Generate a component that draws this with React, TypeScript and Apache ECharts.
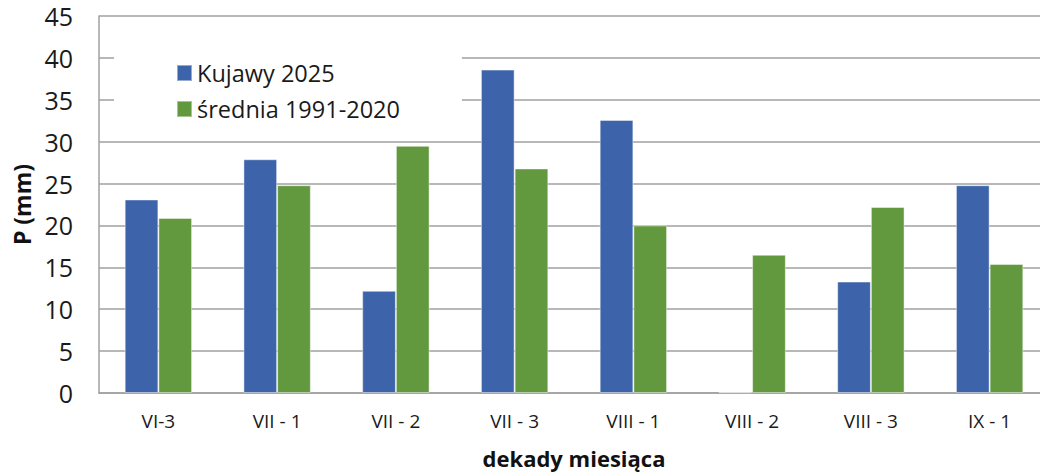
import React, { useEffect, useRef } from "react";
import * as echarts from "echarts";

const categories = ["VI-3", "VII - 1", "VII - 2", "VII - 3", "VIII - 1", "VIII - 2", "VIII - 3", "IX - 1"];
const kujawy2025 = [23.1, 27.9, 12.2, 38.6, 32.6, 0.1, 13.3, 24.8];
const srednia = [20.9, 24.8, 29.5, 26.8, 20.0, 16.5, 22.2, 15.4];
const seriesNames = ["Kujawy 2025", "średnia 1991-2020"];
const yAxisName = "P (mm)";
const xAxisName = "dekady miesiąca";

const FONT = "'Open Sans', 'Noto Sans', sans-serif";

export default function App() {
  const ref = useRef<HTMLDivElement>(null);
  useEffect(() => {
    if (!ref.current) return;
    const chart = echarts.init(ref.current, null, { renderer: "svg" });
    chart.setOption({
      animation: false,
      backgroundColor: "#ffffff",
      textStyle: { fontFamily: FONT },
      grid: { left: 99, right: 0, top: 16, bottom: 79, containLabel: false },
      legend: {
        orient: "vertical",
        left: 114,
        top: 33,
        padding: [28, 62, 20, 62],
        backgroundColor: "#ffffff",
        itemWidth: 15,
        itemHeight: 16,
        itemGap: 12,
        icon: "rect",
        textStyle: { fontFamily: FONT, fontSize: 23.5, color: "#1a1a1a" },
        data: seriesNames,
      },
      xAxis: {
        type: "category",
        data: categories,
        name: xAxisName,
        nameLocation: "middle",
        nameGap: 54,
        nameTextStyle: { fontFamily: FONT, fontSize: 22, fontWeight: "bold", color: "#111" },
        axisLine: { show: true, lineStyle: { color: "#a0a0a0", width: 1.5 } },
        axisTick: { show: false },
        axisLabel: { fontFamily: FONT, fontSize: 19, color: "#1a1a1a", margin: 18 },
      },
      yAxis: {
        type: "value",
        min: 0,
        max: 45,
        interval: 5,
        name: yAxisName,
        nameLocation: "middle",
        nameGap: 61,
        nameRotate: 90,
        nameTextStyle: { fontFamily: FONT, fontSize: 23, fontWeight: "bold", color: "#111" },
        axisLine: { show: true, lineStyle: { color: "#a0a0a0", width: 1.5 } },
        axisTick: { show: false },
        axisLabel: { fontFamily: FONT, fontSize: 25, color: "#1a1a1a", margin: 26 },
        splitLine: { show: true, lineStyle: { color: "#a0a0a0", width: 1.5 } },
      },
      series: [
        {
          name: seriesNames[0],
          type: "bar",
          data: kujawy2025,
          barWidth: 33.7,
          barGap: "0%",
          itemStyle: { color: "#3d64aa", borderColor: "rgba(255,255,255,0.45)", borderWidth: 1 },
        },
        {
          name: seriesNames[1],
          type: "bar",
          data: srednia,
          barWidth: 33.7,
          barGap: "0%",
          itemStyle: { color: "#62983e", borderColor: "rgba(255,255,255,0.45)", borderWidth: 1 },
        },
      ],
    });
    return () => chart.dispose();
  }, []);
  return (
    <div style={{ position: "fixed", left: 0, top: 0, width: 1040, height: 474, overflow: "hidden" }}>
      <div ref={ref} style={{ width: 1049, height: 474 }} />
    </div>
  );
}
